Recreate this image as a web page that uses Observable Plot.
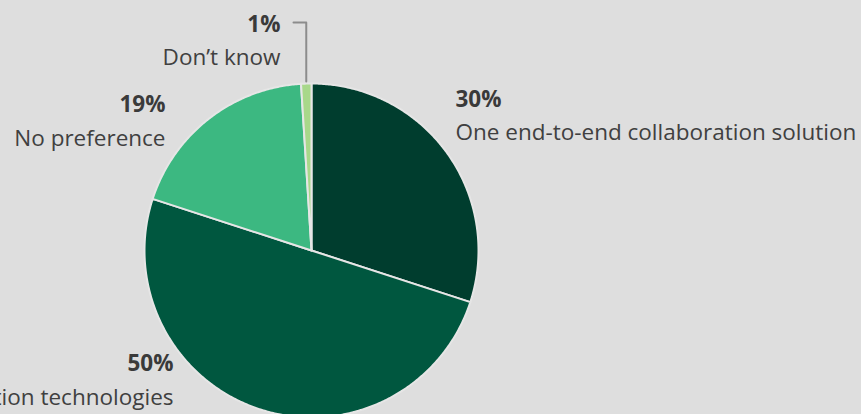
<!DOCTYPE html>
<html>
<head>
<meta charset="utf-8">
<script src="https://cdn.jsdelivr.net/npm/d3@7"></script>
<script src="https://cdn.jsdelivr.net/npm/@observablehq/plot@0.6"></script>
<style>
  html, body { margin: 0; padding: 0; background: #dedede; }
  #chart svg { display: block; background: #dedede; }
</style>
</head>
<body>
<div id="chart"></div>
<script>
// ---- data ----
const categories = [
  "One end-to-end collaboration solution",
  "Multiple best-of-breed collaboration technologies",
  "No preference",
  "Don’t know"
];
const values = [30, 50, 19, 1];
const percentLabels = ["30%", "50%", "19%", "1%"];
const colors = ["#003d2e", "#00573f", "#3cb881", "#a8d88a"];

// ---- layout (pixels relative to pie centre, y up) ----
const W = 861, H = 414;
const cx = 311, cy = 250, R = 167;
const labelLayout = [
  {x: 455 - cx, yPct: cy - 99, yLab: cy - 132, anchor: "start"},
  {x: 173 - cx, yPct: cy - 363, yLab: cy - 397, anchor: "end"},
  {x: 165 - cx, yPct: cy - 104, yLab: cy - 138, anchor: "end"},
  {x: 280 - cx, yPct: cy - 24, yLab: cy - 57, anchor: "end"}
];

const pie = d3.pie().sort(null).value(d => d.value)(categories.map((c, i) => ({key: c, value: values[i], i})));

// polygon points for each slice (angles clockwise from top)
const slicePts = [];
for (const a of pie) {
  const k = a.data.key;
  slicePts.push({k, x: 0, y: 0});
  const n = Math.max(2, Math.ceil((a.endAngle - a.startAngle) / (Math.PI / 360)));
  for (let j = 0; j <= n; j++) {
    const t = a.startAngle + (a.endAngle - a.startAngle) * j / n;
    slicePts.push({k, x: R * Math.sin(t), y: R * Math.cos(t)});
  }
  slicePts.push({k, x: 0, y: 0});
}

// leader line for the smallest slice
const small = pie[3];
const mid = (small.startAngle + small.endAngle) / 2;
const lx = R * Math.sin(mid);
const leader = [
  {x: labelLayout[3].x + 13, y: labelLayout[3].yPct + 2},
  {x: lx, y: labelLayout[3].yPct + 2},
  {x: lx, y: R + 2}
];

const labels = categories.map((c, i) => ({
  cat: c, pct: percentLabels[i], ...labelLayout[i]
}));

const font = "'Open Sans', Lato, sans-serif";
const fs = 22.5;
const chart = Plot.plot({
  width: W, height: H,
  margin: 0,
  x: {domain: [-cx, W - cx], axis: null},
  y: {domain: [cy - H, cy], axis: null},
  color: {domain: categories, range: colors},
  style: {background: "#dedede", fontFamily: font},
  marks: [
    Plot.line(slicePts, {x: "x", y: "y", z: "k", fill: "k", stroke: "#e6e6e6", strokeWidth: 2, strokeLinejoin: "round", curve: "linear"}),
    Plot.line(leader, {x: "x", y: "y", stroke: "#8c8c8c", strokeWidth: 2}),
    Plot.text(labels.filter(d => d.anchor === "start"), {x: "x", y: "yPct", text: "pct", textAnchor: "start", fontSize: fs, fontWeight: "bold", fill: "#3a3a3a"}),
    Plot.text(labels.filter(d => d.anchor === "end"), {x: "x", y: "yPct", text: "pct", textAnchor: "end", fontSize: fs, fontWeight: "bold", fill: "#3a3a3a"}),
    Plot.text(labels.filter(d => d.anchor === "start"), {x: "x", y: "yLab", text: "cat", textAnchor: "start", fontSize: fs, fill: "#404040"}),
    Plot.text(labels.filter(d => d.anchor === "end"), {x: "x", y: "yLab", text: "cat", textAnchor: "end", fontSize: fs, fill: "#404040"})
  ]
});
document.getElementById("chart").appendChild(chart);
</script>
</body>
</html>
